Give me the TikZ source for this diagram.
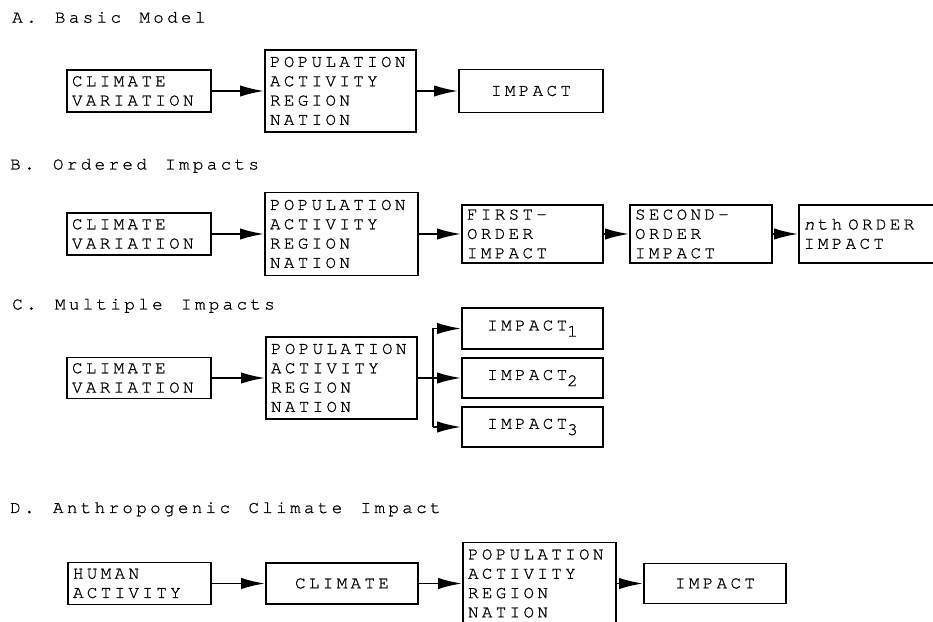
\documentclass[tikz,border=0pt]{standalone}
\usepackage{fontspec}
\setmainfont{texgyrecursor-regular.otf}[ItalicFont=texgyrecursor-italic.otf, LetterSpace=19, WordSpace=1.32, FakeBold=0.9]
\usetikzlibrary{arrows.meta}

\begin{document}
\begin{tikzpicture}[
    font=\fontsize{15pt}{16.5pt}\selectfont,
    blk/.style={draw, line width=1.5pt, inner xsep=0.15cm, inner ysep=0pt, align=left},
    mid/.style={draw, line width=1.5pt, inner xsep=0.15cm, inner ysep=0pt, align=center},
    link/.style={line width=1.7pt, -{Latex[length=0.72cm,width=0.34cm]}},
    heading/.style={anchor=base west, inner sep=0pt}
]
    \useasboundingbox (0,0) rectangle (27.99,-18.66);
    \clip (0,0) rectangle (27.99,-18.66);

    % A. Basic model
    \node[heading] (hA) at (0.36,-0.68) {A. Basic Model};
    \node[blk, text width=4.02cm, minimum height=1.26cm] (cvA) at (4.17,-2.73) {CLIMATE\\VARIATION};
    \node[blk, text width=4.23cm, minimum height=2.46cm] (popA) at (10.215,-2.73) {POPULATION\\ACTIVITY\\REGION\\NATION};
    \node[mid, text width=4.02cm, minimum height=1.29cm] (impA) at (15.93,-2.73) {IMPACT};
    \draw[link] (cvA) -- (popA);
    \draw[link] (popA) -- (impA);

    % B. Ordered impacts
    \node[heading] (hB) at (0.30,-5.085) {B. Ordered Impacts};
    \node[blk, text width=4.02cm, minimum height=1.26cm] (cvB) at (4.17,-7.02) {CLIMATE\\VARIATION};
    \node[blk, text width=4.29cm, minimum height=2.49cm] (popB) at (10.245,-7.02) {POPULATION\\ACTIVITY\\REGION\\NATION};
    \node[blk, text width=3.93cm, minimum height=1.74cm] (fstB) at (15.975,-7.02) {FIRST-\\ORDER\\IMPACT};
    \node[blk, text width=3.96cm, minimum height=1.74cm] (sndB) at (21.03,-7.02) {SECOND-\\ORDER\\IMPACT};
    \node[blk, text width=3.96cm, minimum height=1.74cm] (nthB) at (26.1,-7.02) {\textit{n}th ORDER\\IMPACT};
    \draw[link] (cvB) -- (popB);
    \draw[link] (popB) -- (fstB);
    \draw[link] (fstB) -- (sndB);
    \draw[link] (sndB) -- (nthB);

    % C. Multiple impacts
    \node[heading] (hC) at (0.36,-9.285) {C. Multiple Impacts};
    \node[blk, text width=4.02cm, minimum height=1.23cm] (cvC) at (4.17,-11.34) {CLIMATE\\VARIATION};
    \node[blk, text width=4.23cm, minimum height=2.46cm] (popC) at (10.245,-11.34) {POPULATION\\ACTIVITY\\REGION\\NATION};
    \node[mid, text width=3.93cm, minimum height=1.23cm] (imp1) at (15.975,-9.855) {IMPACT\raisebox{-0.35em}{1}};
    \node[mid, text width=3.93cm, minimum height=1.20cm] (imp2) at (15.975,-11.34) {IMPACT\raisebox{-0.35em}{2}};
    \node[mid, text width=3.93cm, minimum height=1.20cm] (imp3) at (15.975,-12.81) {IMPACT\raisebox{-0.35em}{3}};
    \coordinate (fork) at (12.99,-11.34);
    \draw[link] (cvC) -- (popC);
    \draw[line width=1.7pt] (popC) -- (fork);
    \draw[line width=1.9pt] (fork |- imp1) -- (fork |- imp3);
    \foreach \k in {1,2,3}
        \draw[link] (fork |- imp\k) -- (imp\k);

    % D. Anthropogenic climate impact
    \node[heading] (hD) at (0.30,-15.39) {D. Anthropogenic Climate Impact};
    \node[blk, text width=3.99cm, minimum height=1.26cm] (hum) at (4.185,-17.505) {HUMAN\\ACTIVITY};
    \node[mid, text width=4.26cm, minimum height=1.23cm] (cli) at (10.26,-17.505) {CLIMATE};
    \node[blk, text width=4.29cm, minimum height=2.46cm] (popD) at (16.185,-17.505) {POPULATION\\ACTIVITY\\REGION\\NATION};
    \node[mid, text width=3.96cm, minimum height=1.20cm] (impD) at (21.45,-17.505) {IMPACT};
    \draw[link] (hum) -- (cli);
    \draw[link] (cli) -- (popD);
    \draw[link] (popD) -- (impD);
\end{tikzpicture}
\end{document}
